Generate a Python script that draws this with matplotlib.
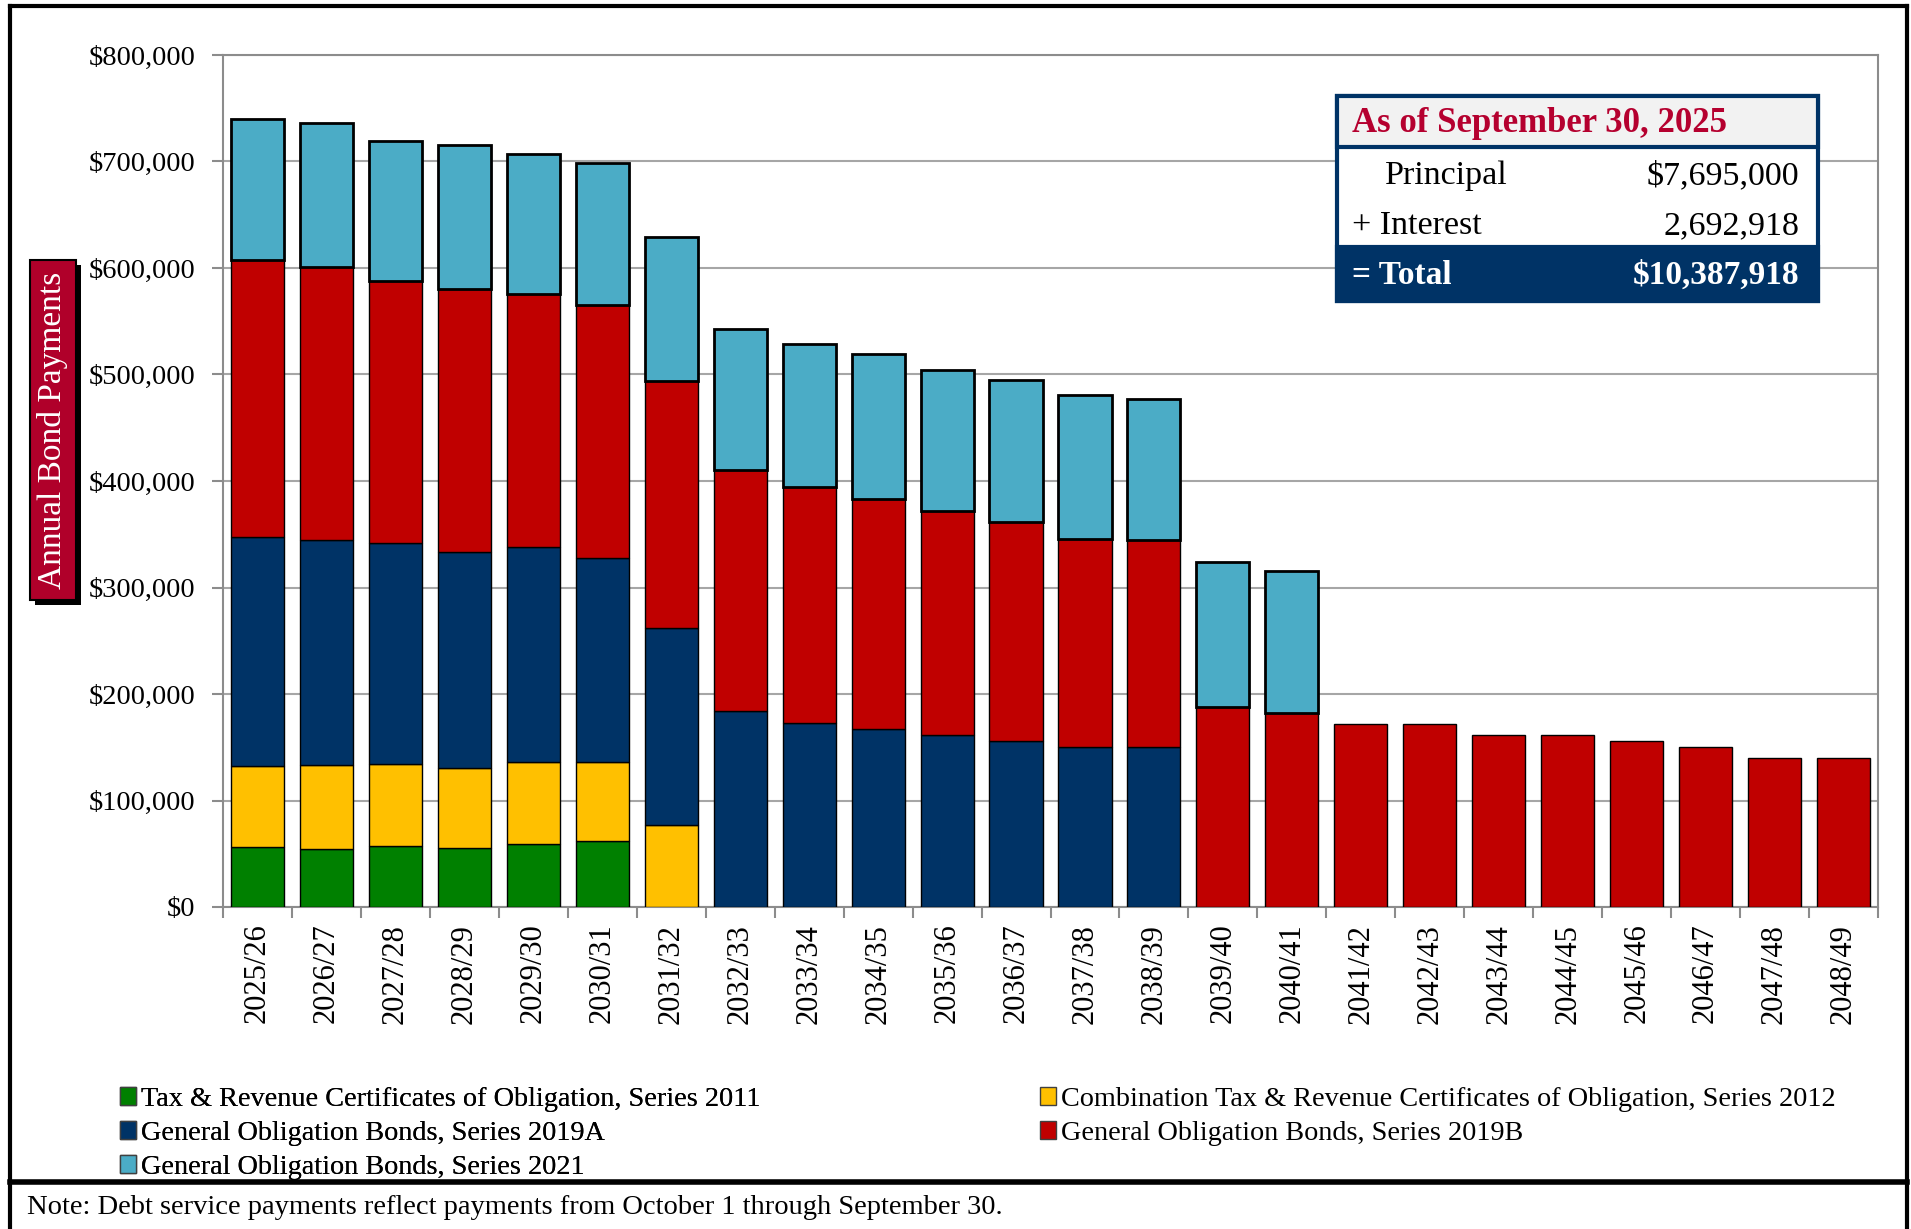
import numpy as np
import matplotlib.pyplot as plt
from matplotlib.patches import Rectangle, Patch
from matplotlib.lines import Line2D
from matplotlib.ticker import FuncFormatter, MultipleLocator, FixedLocator

plt.rcParams['font.family'] = ['Liberation Serif', 'DejaVu Serif']

# fiscal years
years = ['2025/26', '2026/27', '2027/28', '2028/29', '2029/30', '2030/31',
         '2031/32', '2032/33', '2033/34', '2034/35', '2035/36', '2036/37',
         '2037/38', '2038/39', '2039/40', '2040/41', '2041/42', '2042/43',
         '2043/44', '2044/45', '2045/46', '2046/47', '2047/48', '2048/49']

# annual payments by series (in $)
s2011 = [56300, 54800, 57600, 55800, 58900, 61700, 0, 0, 0, 0, 0, 0,
         0, 0, 0, 0, 0, 0, 0, 0, 0, 0, 0, 0]
s2012 = [76100, 78900, 77000, 75100, 77300, 74800, 76700, 0, 0, 0, 0, 0,
         0, 0, 0, 0, 0, 0, 0, 0, 0, 0, 0, 0]
s2019a = [215400, 211300, 206900, 202400, 202200, 191500, 185600, 184300,
          173100, 167500, 161900, 156200, 150600, 150000, 0, 0, 0, 0, 0, 0,
          0, 0, 0, 0]
s2019b = [259800, 255700, 246700, 246800, 237200, 237300, 232000, 226400,
          221300, 215600, 210300, 205000, 194700, 194600, 187800, 182500,
          172200, 172000, 161500, 161300, 155900, 150600, 139900, 139800]
s2021 = [132700, 135100, 131500, 135100, 131600, 132900, 135100, 131700,
         134000, 136100, 132400, 134000, 135200, 132800, 135900, 132700,
         0, 0, 0, 0, 0, 0, 0, 0]

series_names = ['Tax & Revenue Certificates of Obligation, Series 2011',
                'Combination Tax & Revenue Certificates of Obligation, Series 2012',
                'General Obligation Bonds, Series 2019A',
                'General Obligation Bonds, Series 2019B',
                'General Obligation Bonds, Series 2021']
colors = ['#008000', '#FFC000', '#003366', '#C00000', '#4BACC6']

principal = '$7,695,000'
interest = '2,692,918'
total = '$10,387,918'

W, H = 1911, 1229


def fx(x):
    return x / W


def fy(y):
    return 1 - y / H


fig = plt.figure(figsize=(W / 100, H / 100), dpi=100)
ax = fig.add_axes([fx(223), fy(907), fx(1878) - fx(223), fy(55) - fy(907)])

x = np.arange(len(years))
bottom = np.zeros(len(years))
handles = []
for vals, col, name in zip([s2011, s2012, s2019a, s2019b, s2021], colors, series_names):
    vals = np.array(vals, dtype=float)
    lw = 2.0 if col == '#4BACC6' else 1.0
    keep = vals > 0
    ax.bar(x[keep], vals[keep], width=0.77, bottom=bottom[keep], color=col,
           edgecolor='black', linewidth=lw, zorder=3)
    bottom += vals
    handles.append(Patch(facecolor=col, edgecolor='#404040', linewidth=1.0, label=name))

ax.set_xlim(-0.5, len(years) - 0.5)
ax.set_ylim(0, 800000)
ax.yaxis.set_major_locator(MultipleLocator(100000))
ax.yaxis.set_major_formatter(FuncFormatter(lambda v, p: '${:,.0f}'.format(v)))
ax.grid(axis='y', color='#A6A6A6', linewidth=1.5, zorder=0)
ax.set_axisbelow(True)
for s in ax.spines.values():
    s.set_color('#8C8C8C')
    s.set_linewidth(1.5)

ax.set_xticks(x)
ax.set_xticklabels(years, rotation=90, fontsize=22)
ax.xaxis.set_minor_locator(FixedLocator(np.arange(-0.5, len(years), 1.0)))
ax.tick_params(axis='x', which='major', length=0, pad=12)
ax.tick_params(axis='x', which='minor', length=8, width=1.5, color='#8C8C8C')
ax.tick_params(axis='y', length=8, width=1.5, color='#8C8C8C', labelsize=20.5, pad=12)

# y-axis title box with shadow
fig.add_artist(Rectangle((fx(35), fy(605)), fx(76) - fx(30), fy(260) - fy(600),
                         transform=fig.transFigure, facecolor='black', edgecolor='none'))
fig.add_artist(Rectangle((fx(30), fy(600)), fx(76) - fx(30), fy(260) - fy(600),
                         transform=fig.transFigure, facecolor='#B0002A', edgecolor='black',
                         linewidth=1.5))
fig.text(fx(53), fy(430), 'Annual Bond Payments', rotation=90, color='white',
         fontsize=24, ha='center', va='center')

# summary box
box_l, box_r = 1337, 1818
fig.add_artist(Rectangle((fx(box_l), fy(301)), fx(box_r) - fx(box_l), fy(96) - fy(301),
                         transform=fig.transFigure, facecolor='white', edgecolor='#003366',
                         linewidth=3, zorder=5))
fig.add_artist(Rectangle((fx(box_l), fy(147)), fx(box_r) - fx(box_l), fy(96) - fy(147),
                         transform=fig.transFigure, facecolor='#F2F2F2', edgecolor='#003366',
                         linewidth=3, zorder=5))
fig.add_artist(Rectangle((fx(box_l), fy(301)), fx(box_r) - fx(box_l), fy(247) - fy(301),
                         transform=fig.transFigure, facecolor='#003366', edgecolor='#003366',
                         linewidth=3, zorder=5))
fig.text(fx(1352), fy(124), 'As of September 30, 2025', color='#B5002F', fontsize=25,
         fontweight='bold', ha='left', va='center', zorder=6)
fig.text(fx(1385), fy(176), 'Principal', fontsize=24.5, ha='left', va='center', zorder=6)
fig.text(fx(1799), fy(176), principal, fontsize=24.5, ha='right', va='center', zorder=6)
fig.text(fx(1352), fy(226), '+ Interest', fontsize=24.5, ha='left', va='center', zorder=6)
fig.text(fx(1799), fy(226), interest, fontsize=24.5, ha='right', va='center', zorder=6)
fig.text(fx(1352), fy(275), '= Total', fontsize=24, color='white', fontweight='bold',
         ha='left', va='center', zorder=6)
fig.text(fx(1799), fy(275), total, fontsize=24, color='white', fontweight='bold',
         ha='right', va='center', zorder=6)

# legend in two columns
leg_kw = dict(frameon=False, fontsize=20.3, handlelength=0.55, handleheight=0.6,
              handletextpad=0.2, labelspacing=0.32, borderpad=0, borderaxespad=0,
              loc='upper left')
leg1 = fig.legend([handles[0], handles[2], handles[4]],
                  [series_names[0], series_names[2], series_names[4]],
                  bbox_to_anchor=(fx(120), fy(1087)), **leg_kw)
fig.legend([handles[1], handles[3]], [series_names[1], series_names[3]],
           bbox_to_anchor=(fx(1040), fy(1087)), **leg_kw)
fig.add_artist(leg1)

fig.text(fx(27), fy(1207), 'Note: Debt service payments reflect payments from October 1 through September 30.',
         fontsize=20.5, ha='left', va='center')

# outer frame and separator
for xs, ys, lw in [([10, 10], [6, 1229], 3), ([10, 1907], [6, 6], 3),
                   ([1907, 1907], [6, 1229], 3), ([10, 1907], [1182, 1182], 4)]:
    fig.add_artist(Line2D([fx(v) for v in xs], [fy(v) for v in ys],
                          transform=fig.transFigure, color='black', linewidth=lw))

fig.savefig('out.png', dpi=100)
